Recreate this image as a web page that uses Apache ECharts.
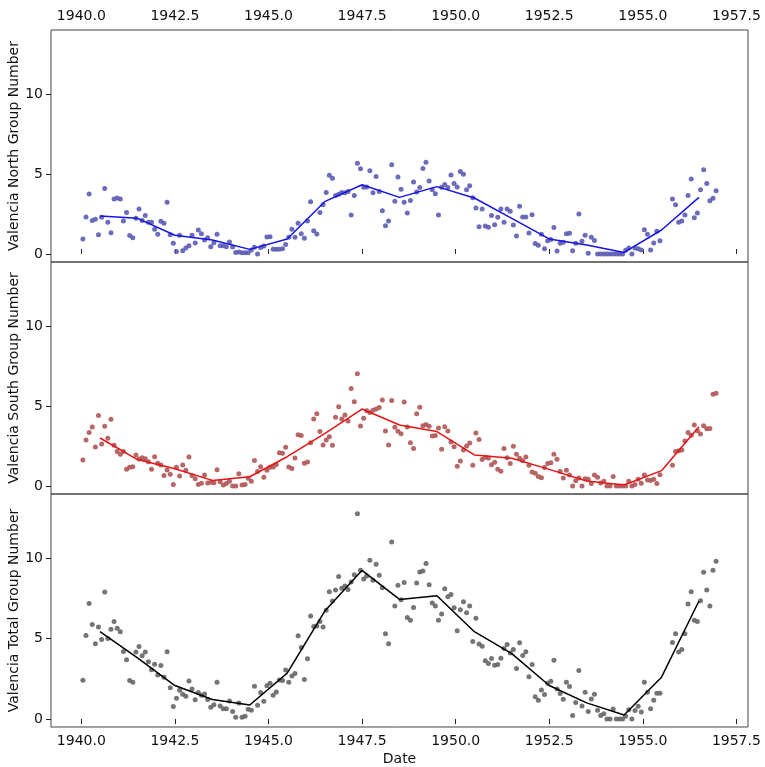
<!DOCTYPE html>
<html>
<head>
<meta charset="utf-8">
<script src="https://cdn.jsdelivr.net/npm/echarts@6/dist/echarts.min.js"></script>
<style>
html,body{margin:0;padding:0;background:#fff;}
#chart{width:765px;height:767px;}
</style>
</head>
<body>
<div id="chart"></div>
<script>
// monthly group numbers, Jan 1940 .. Dec 1956 (null = no observation)
var years=[1940,1941,1942,1943,1944,1945,1946,1947,1948,1949,1950,1951,1952,1953,1954,1955,1956];
var northMonthly=[
    0.94,2.31,3.75,2.1,2.17,1.21,2.29,4.1,1.98,1.33,3.44,3.5,
    3.44,2.06,2.6,1.15,1.02,2.23,2.81,2.1,2.4,1.98,1.98,1.54,
    1.23,2.04,1.92,3.23,1.21,0.67,0.15,1.17,0.21,0.38,0.52,1.17,
    0.69,1.5,1.27,0.88,1.02,0.46,0.71,1.23,0.52,0.52,0.46,0.75,
    0.44,0.1,0.12,0.08,0.08,0.08,0.25,0.42,0,0.4,0.5,1.06,
    1.08,0.29,0.29,0.29,0.33,0.6,1.04,1.54,1.04,1.92,1.27,0.98,
    2.06,3.27,1.46,1.25,2.6,3.08,3.85,4.92,4.73,3.65,3.73,3.85,
    3.83,3.9,2.44,3.65,5.67,5.33,4.17,4.19,5.21,3.83,4.85,3.9,
    2.71,1.77,2.06,5.58,3.29,4.81,4.04,3.23,2.56,3.35,4.5,3.88,
    4.15,5.35,5.73,4.56,4.02,3.77,2.44,4.17,4.35,4.15,4.94,4.4,
    4.19,5.15,4.98,4.02,4.27,3.52,2.88,1.71,2.81,1.75,1.67,2.4,
    1.83,2.29,2.81,1.98,2.81,2.67,1.81,1.13,2.98,2.31,2.31,1.31,
    2.46,0.65,0.54,1.23,0.33,0.83,0.9,1.65,0.19,0.67,0.73,1.27,
    1.29,0.21,0.67,2.5,0.79,1.17,0.04,1.04,0.85,0,0,0,
    0,0,0,0,0,0,0.23,0.38,0,0.38,0.33,0.25,
    1.52,1.23,0.25,0.69,1.42,0.83,null,null,null,3.44,3.08,1.98,
    2.06,2.44,3.65,4.69,2.27,2.56,4.02,5.27,4.4,3.33,3.48,3.96
];
var southMonthly=[
    1.63,2.88,3.35,3.69,2.44,4.4,2.63,3.73,2.98,4.17,2.54,2.15,
    1.98,2.15,1.04,1.17,1.21,1.94,1.69,1.77,1.71,1.52,1.04,1.83,
    1.42,1.31,0.65,1.0,0.73,0.1,1.17,0.63,1.31,0.98,1.81,0.65,
    0.46,0.1,0.17,0.69,0.19,0.23,0.21,1.02,0.27,0.06,0.15,0.29,
    0,0,0.77,0.06,0.1,0.48,0.29,1.6,0.9,1.21,0.54,0.98,
    1.17,1.19,1.35,2.08,2.04,2.42,1.19,1.1,1.75,3.21,3.15,1.42,
    1.5,2.71,4.19,4.52,3.4,2.56,2.88,3.08,2.54,4.29,4.96,4.19,
    4.44,4.06,6.1,5.27,7.02,3.75,4.23,4.71,4.6,4.73,4.81,4.9,
    5.38,3.44,2.56,5.35,3.67,3.42,3.27,5.25,3.69,2.71,2.35,4.52,
    4.92,3.77,3.85,3.73,3.13,3.15,3.63,2.29,3.71,3.44,2.75,2.46,
    1.23,1.56,2.25,2.5,2.69,1.29,3.31,2.9,1.65,1.79,1.75,1.33,
    1.48,1.04,0.92,2.35,1.77,1.4,2.48,1.98,1.73,1.58,1.81,1.29,
    0.88,0.79,0.6,0.52,1.15,1.4,1.46,1.98,1.67,0.9,0.5,0.98,
    0.69,0,0.33,0.5,0,0.46,0.42,0.15,0.69,0.54,0.19,0.29,
    0,0,0.6,0,0,0,0,0.29,0,0.1,0.42,0.17,
    0.69,0.38,0.35,0.42,0.15,0.71,null,null,null,1.29,2.15,2.21,
    2.25,2.81,3.35,3.17,3.81,3.46,3.25,3.77,3.58,3.6,5.73,5.79
];
var totalMonthly=[
    2.41,5.2,7.19,5.88,4.68,5.72,4.95,7.9,5.01,5.59,6.07,5.65,
    5.43,4.2,3.68,2.39,2.29,4.16,4.51,3.93,4.16,3.56,3.06,3.41,
    2.74,3.33,2.6,4.18,1.95,0.77,1.29,1.79,1.54,1.41,2.37,1.87,
    1.19,1.64,1.48,1.56,1.21,0.73,0.89,2.29,0.81,0.64,0.64,1.12,
    0.46,0.1,1.0,0.1,0.17,0.6,0.54,2.04,0.85,1.64,1.1,2.06,
    2.22,1.48,1.68,2.43,2.39,3.04,2.29,2.68,2.83,5.18,4.45,2.45,
    3.74,6.4,5.76,5.78,6.07,5.72,6.76,7.92,7.34,8.02,8.86,8.13,
    8.27,8.05,8.52,8.98,12.77,9.25,8.71,8.9,9.88,8.63,9.63,8.94,
    8.17,5.3,4.68,11.02,7.03,8.32,7.42,8.5,6.32,6.15,6.94,8.46,
    9.15,9.21,9.67,8.36,7.21,7.03,6.15,6.53,8.11,7.61,7.75,6.92,
    5.49,6.8,7.3,6.61,7.03,4.82,6.26,4.66,4.53,3.62,3.45,3.76,
    3.35,3.39,3.78,4.39,4.64,4.1,4.32,3.14,4.74,3.95,4.18,2.62,
    3.39,1.39,1.16,1.81,1.52,2.22,2.35,3.66,1.87,1.58,1.23,2.29,
    2.02,0.21,1.02,3.01,0.81,1.66,0.46,1.25,1.54,0.54,0.21,0.33,
    0,0,0.62,0,0,0,0.17,0.58,0,0.52,0.79,0.44,
    2.29,1.66,0.64,1.16,1.6,1.6,null,null,null,4.76,5.3,4.16,
    4.32,5.3,7.15,7.92,6.15,6.07,7.36,9.13,8.02,7.03,9.25,9.81
];
// yearly means, drawn at mid-year
var northYearly=[2.38,2.23,1.17,0.88,0.29,0.94,3.27,4.33,3.54,4.21,3.5,2.23,0.94,0.56,0.1,1.5,3.54];
var southYearly=[3.0,1.65,1.08,0.35,0.58,1.83,3.27,4.81,3.81,3.4,1.94,1.73,1.04,0.31,0.06,0.96,3.71];
var totalYearly=[5.43,3.8,2.08,1.21,0.87,2.85,6.7,9.25,7.44,7.67,5.43,4.07,2.08,1.0,0.25,2.6,7.34];
var xTicks=[1940,1942.5,1945,1947.5,1950,1952.5,1955,1957.5];
var yTicks=[0,5,10];
var yNames=['Valencia North Group Number','Valencia South Group Number','Valencia Total Group Number'];

var FONT='DejaVu Sans';
var AXIS_COLOR='#444';

function monthlyPoints(arr){
    var out=[];
    for(var i=0;i<arr.length;i++){
        if(arr[i]===null) continue;
        var y=years[Math.floor(i/12)];
        out.push([y+((i%12)+0.5)/12,arr[i]]);
    }
    return out;
}
function yearlyPoints(arr){
    var out=[];
    for(var i=0;i<arr.length;i++){
        out.push([years[i]+0.5,arr[i]]);
    }
    return out;
}

function makeX(idx,pos,showLabels){
    return {
        type:'value',gridIndex:idx,position:pos,
        min:1939.19,max:1957.81,
        axisLine:{show:false},
        axisTick:{show:showLabels,length:5,inside:false,customValues:xTicks,lineStyle:{color:'#222'}},
        axisLabel:{show:showLabels,customValues:xTicks,margin:7,fontFamily:FONT,fontSize:14,color:'#111',
            formatter:function(v){return v.toFixed(1);}},
        splitLine:{show:false},
        name:idx==2?'Date':'',nameLocation:'middle',nameGap:25,nameMoveOverlap:false,
        nameTextStyle:{fontFamily:FONT,fontSize:14,color:'#111'}
    };
}
function makeY(idx){
    return {
        type:'value',gridIndex:idx,min:-0.5,max:14,
        axisLine:{show:false},
        axisTick:{show:true,length:5,customValues:yTicks,lineStyle:{color:'#222'}},
        axisLabel:{customValues:yTicks,margin:8,fontFamily:FONT,fontSize:14,color:'#111'},
        splitLine:{show:false},
        name:yNames[idx],nameLocation:'middle',nameGap:30,nameRotate:90,nameMoveOverlap:false,
        nameTextStyle:{fontFamily:FONT,fontSize:14,color:'#111'}
    };
}

var chart=echarts.init(document.getElementById('chart'));
var gridBase={left:51,right:17,show:true,borderColor:AXIS_COLOR,borderWidth:1,backgroundColor:'transparent',
    containLabel:false,outerBoundsMode:'none'};
var option={
    animation:false,
    backgroundColor:'#fff',
    grid:[
        Object.assign({top:30,height:232},gridBase),
        Object.assign({top:262,height:232},gridBase),
        Object.assign({top:494,height:233},gridBase)
    ],
    xAxis:[makeX(0,'top',true),makeX(1,'bottom',false),makeX(2,'bottom',true)],
    yAxis:[makeY(0),makeY(1),makeY(2)],
    series:[
        {type:'scatter',xAxisIndex:0,yAxisIndex:0,data:monthlyPoints(northMonthly),symbolSize:5,
            itemStyle:{color:'#5c5cb4',opacity:0.9}},
        {type:'line',xAxisIndex:0,yAxisIndex:0,data:yearlyPoints(northYearly),showSymbol:false,
            lineStyle:{color:'#1414e6',width:1.5}},
        {type:'scatter',xAxisIndex:1,yAxisIndex:1,data:monthlyPoints(southMonthly),symbolSize:5,
            itemStyle:{color:'#b05656',opacity:0.9}},
        {type:'line',xAxisIndex:1,yAxisIndex:1,data:yearlyPoints(southYearly),showSymbol:false,
            lineStyle:{color:'#e61414',width:1.5}},
        {type:'scatter',xAxisIndex:2,yAxisIndex:2,data:monthlyPoints(totalMonthly),symbolSize:5,
            itemStyle:{color:'#666666',opacity:0.9}},
        {type:'line',xAxisIndex:2,yAxisIndex:2,data:yearlyPoints(totalYearly),showSymbol:false,
            lineStyle:{color:'#000',width:1.5}}
    ]
};
chart.setOption(option);
</script>
</body>
</html>
